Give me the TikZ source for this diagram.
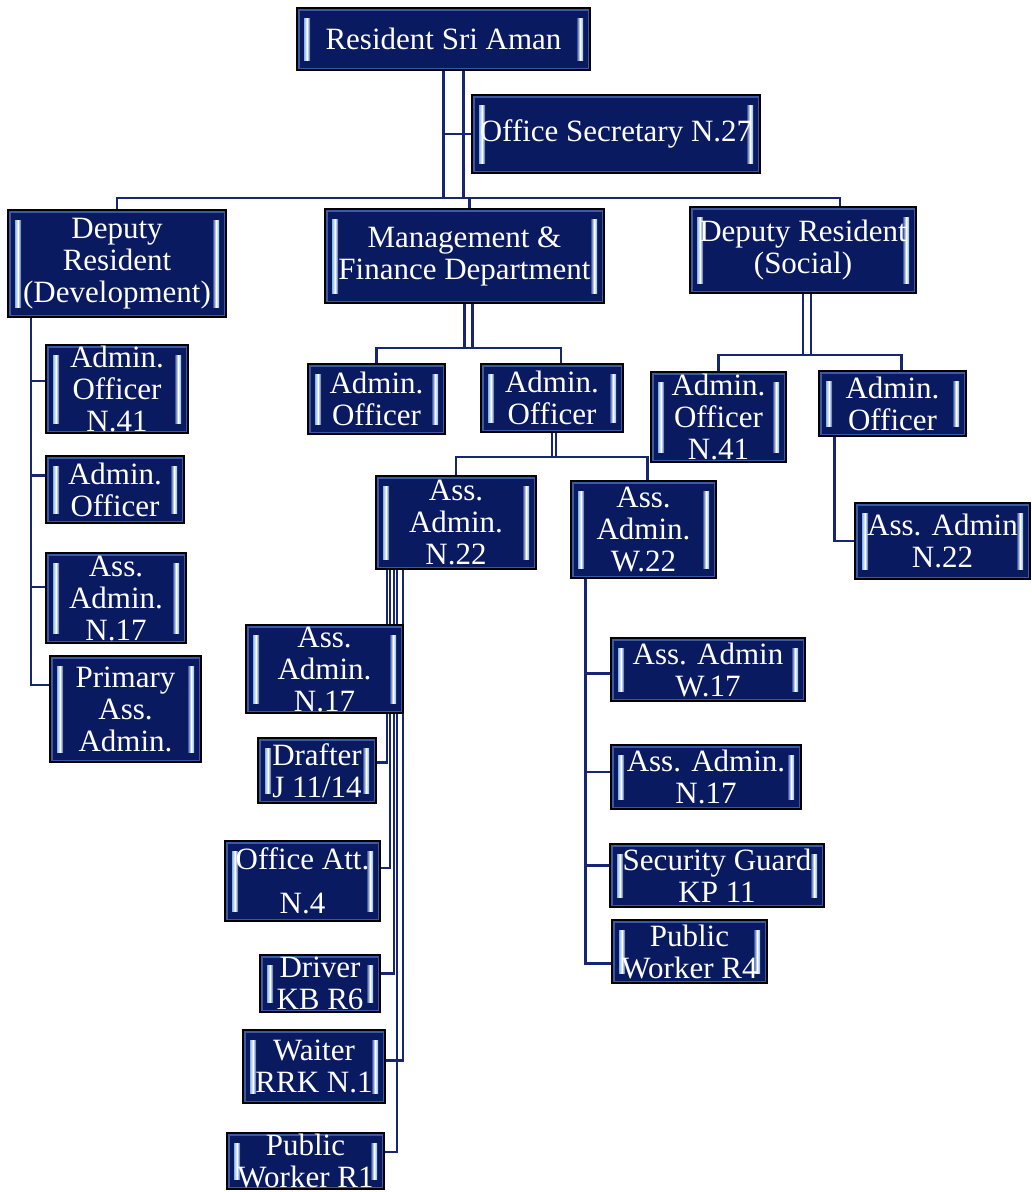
\documentclass[tikz,border=0pt]{standalone}
\usepackage{fontspec}
\setmainfont{Liberation Serif}
\usetikzlibrary{backgrounds}
\definecolor{boxfill}{RGB}{10,26,96}
\definecolor{rimcol}{RGB}{58,88,165}
\definecolor{barcol}{RGB}{130,180,232}
\definecolor{conncol}{RGB}{22,38,115}
\tikzset{
  box/.style={draw=black, line width=2.2pt, fill=boxfill, text=white,
    font=\fontsize{31}{32}\selectfont, align=center, inner sep=0pt, outer sep=0pt,
    rectangle,
    path picture={
      \draw[rimcol, line width=5pt] (path picture bounding box.south west) rectangle (path picture bounding box.north east);
      \shade[left color=barcol, right color=rimcol, middle color=white] ([xshift=7pt,yshift=10pt]path picture bounding box.south west) rectangle ([xshift=13pt,yshift=-10pt]path picture bounding box.north west);
      \shade[left color=rimcol, right color=barcol, middle color=white] ([xshift=-7pt,yshift=10pt]path picture bounding box.south east) rectangle ([xshift=-13pt,yshift=-10pt]path picture bounding box.north east);
    }},
  conn/.style={draw=conncol, line width=2.2pt}
}
\begin{document}
\begin{tikzpicture}[x=1pt,y=-1pt]
\useasboundingbox (0,0) rectangle (1032,1192);
% nodes
\node[box, minimum width=293, minimum height=62] (res) at (443.5,39) {Resident Sri Aman};
\node[box, minimum width=288, minimum height=78] (os) at (616,134) {Office Secretary N.27};
\node[box, minimum width=218, minimum height=107] (dd) at (117,263.5) {Deputy\\Resident\\(Development)};
\node[box, minimum width=279, minimum height=94] (mf) at (464.5,256) {Management \&\\Finance Department};
\node[box, minimum width=226, minimum height=86] (ds) at (803,250) {Deputy Resident\\(Social)};
\node[box, minimum width=142, minimum height=88] (ao1) at (117,389) {Admin.\\Officer\\N.41};
\node[box, minimum width=138, minimum height=67] (ao2) at (115,489.5) {Admin.\\Officer};
\node[box, minimum width=140, minimum height=90] (aa17L) at (116,598) {Ass.\\Admin.\\N.17};
\node[box, minimum width=151, minimum height=106] (pa) at (125.5,709) {Primary\\Ass.\\Admin.};
\node[box, minimum width=137, minimum height=70] (aoL) at (376.5,399) {Admin.\\Officer};
\node[box, minimum width=142, minimum height=68] (aoR) at (552,398) {Admin.\\Officer};
\node[box, minimum width=135, minimum height=90] (aoS1) at (718.5,417) {Admin.\\Officer\\N.41};
\node[box, minimum width=147, minimum height=65] (aoS2) at (892.5,403.5) {Admin.\\Officer};
\node[box, minimum width=160, minimum height=93] (aa22) at (456,522.5) {Ass.\\Admin.\\N.22};
\node[box, minimum width=145, minimum height=97] (aw22) at (643.5,529.5) {Ass.\\Admin.\\W.22};
\node[box, minimum width=175, minimum height=76] (as22) at (942.5,541) {Ass. Admin\\N.22};
\node[box, minimum width=157, minimum height=88] (aa17) at (324.5,669) {Ass.\\Admin.\\N.17};
\node[box, minimum width=118, minimum height=65] (dr) at (317,770.5) {Drafter\\J 11/14};
\node[box, minimum width=155, minimum height=80] (oa) at (302.5,881) {Office Att.\\[12pt]N.4};
\node[box, minimum width=120, minimum height=57] (drv) at (320,983.5) {Driver\\KB R6};
\node[box, minimum width=142, minimum height=73] (wt) at (314,1066.5) {Waiter\\RRK N.1};
\node[box, minimum width=157, minimum height=56] (pw1) at (305.5,1161) {Public\\Worker R1};
\node[box, minimum width=194, minimum height=63] (aw17) at (708,669.5) {Ass. Admin\\W.17};
\node[box, minimum width=190, minimum height=64] (an17) at (706,777) {Ass. Admin.\\N.17};
\node[box, minimum width=214, minimum height=63] (sg) at (717,875.5) {Security Guard\\KP 11};
\node[box, minimum width=155, minimum height=63] (pw4) at (689.5,951.5) {Public\\Worker R4};
% connectors
\begin{pgfonlayer}{background}
\coordinate (busA) at (0,198);
\coordinate (busM) at (0,348);
\coordinate (busO) at (0,457);
\coordinate (busS) at (0,355);
\draw[conn] (res.south) -- (res.south |- busA);
\draw[conn] ([xshift=20pt]res.south) -- ([xshift=20pt]res.south |- busA);
\draw[conn] (res.south |- os.west) -- (os.west);
\draw[conn] (dd.north) |- ([xshift=37pt]ds.north |- busA) -- ([xshift=37pt]ds.north);
\draw[conn] ([xshift=5pt]mf.north) -- ([xshift=5pt]mf.north |- busA);
% left column
\draw[conn] ([xshift=-86pt]dd.south) |- ([yshift=8pt]ao1.west);
\draw[conn] ([xshift=-86pt]dd.south) |- ([yshift=14pt]ao2.west);
\draw[conn] ([xshift=-86pt]dd.south) |- ([yshift=11pt]aa17L.west);
\draw[conn] ([xshift=-86pt]dd.south) |- ([yshift=24pt]pa.west);
% management
\draw[conn] (mf.south) -- (mf.south |- busM);
\draw[conn] ([xshift=8pt]mf.south) -- ([xshift=8pt]mf.south |- busM);
\draw[conn] (aoL.north) |- ([xshift=9pt]aoR.north |- busM) -- ([xshift=9pt]aoR.north);
\draw[conn] (aoR.south) -- (aoR.south |- busO);
\draw[conn] ([xshift=4pt]aoR.south) -- ([xshift=4pt]aoR.south |- busO);
\draw[conn] (aa22.north) |- ([xshift=4pt]aw22.north |- busO) -- ([xshift=4pt]aw22.north);
% social
\draw[conn] (ds.south) -- (ds.south |- busS);
\draw[conn] ([xshift=8pt]ds.south) -- ([xshift=8pt]ds.south |- busS);
\draw[conn] (aoS1.north) |- ([xshift=9pt]aoS2.north |- busS) -- ([xshift=9pt]aoS2.north);
\draw[conn] ([xshift=-58pt]aoS2.south) |- (as22.west);
% W.22 column
\draw[conn] ([xshift=-58pt]aw22.south) |- ([yshift=-4pt]aw17.west);
\draw[conn] ([xshift=-58pt]aw22.south) |- ([yshift=5pt]an17.west);
\draw[conn] ([xshift=-58pt]aw22.south) |- ([yshift=10pt]sg.west);
\draw[conn] ([xshift=-58pt]aw22.south) |- ([yshift=-12pt]pw4.west);
% N.22 bundle
\draw[conn] ([xshift=-69pt]aa22.south) |- ([yshift=8pt]dr.east);
\draw[conn] ([xshift=-66pt]aa22.south) |- ([yshift=13pt]oa.east);
\draw[conn] ([xshift=-62pt]aa22.south) |- ([yshift=10pt]drv.east);
\draw[conn] ([xshift=-59pt]aa22.south) |- ([yshift=9pt]pw1.east);
\draw[conn] ([xshift=-53pt]aa22.south) |- ([yshift=6pt]wt.east);
\end{pgfonlayer}
\end{tikzpicture}
\end{document}
